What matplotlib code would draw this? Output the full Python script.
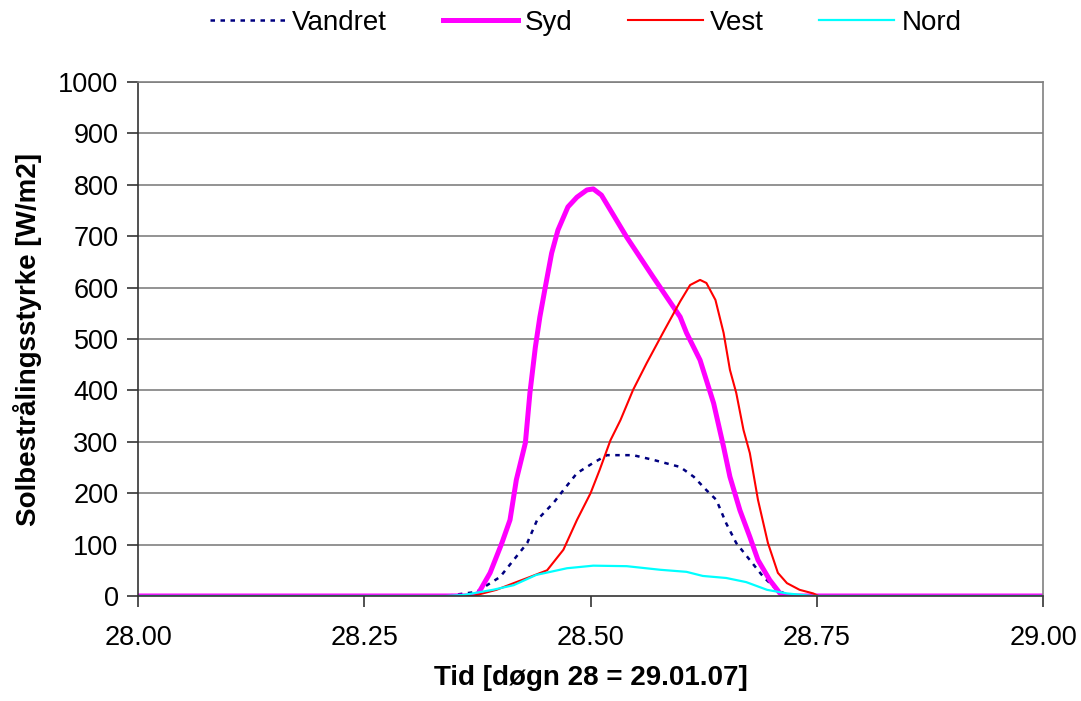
import matplotlib
matplotlib.use("Agg")
import matplotlib.pyplot as plt


# aflaest fra figuren, tid i doegn og straaling i W/m2
vandret_x = [28.0, 28.34, 28.374, 28.4, 28.415, 28.43, 28.441, 28.459, 28.47, 28.485,
             28.503, 28.518, 28.547, 28.569, 28.584, 28.599, 28.614, 28.628, 28.639,
             28.65, 28.661, 28.676, 28.691, 28.706, 28.72, 29.0]
vandret_y = [0, 0, 8, 37, 70, 103, 148, 181, 206, 239,
             259, 274, 274, 265, 258, 251, 232, 206, 187,
             141, 103, 70, 37, 12, 0, 0]

syd_x = [28.0, 28.37, 28.376, 28.389, 28.402, 28.411, 28.418, 28.428, 28.433, 28.439,
         28.444, 28.45, 28.457, 28.464, 28.475, 28.485, 28.496, 28.503, 28.512, 28.54,
         28.569, 28.599, 28.606, 28.621, 28.636, 28.647, 28.654, 28.665, 28.676, 28.685,
         28.698, 28.709, 28.715, 29.0]
syd_y = [0, 0, 5, 45, 103, 148, 226, 298, 395, 484,
         543, 601, 667, 712, 757, 776, 790, 792, 780, 698,
         621, 543, 512, 459, 375, 290, 232, 167, 115, 70,
         31, 6, 0, 0]

vest_x = [28.0, 28.37, 28.396, 28.415, 28.433, 28.452, 28.47, 28.485, 28.5, 28.51,
          28.522, 28.533, 28.547, 28.562, 28.58, 28.599, 28.61, 28.621, 28.628, 28.638,
          28.647, 28.654, 28.661, 28.669, 28.676, 28.685, 28.696, 28.707, 28.717, 28.731,
          28.746, 28.752, 29.0]
vest_y = [0, 0, 12, 25, 37, 50, 90, 148, 200, 245,
          303, 342, 401, 453, 512, 573, 605, 615, 609, 576,
          512, 440, 395, 323, 278, 187, 103, 45, 25, 12,
          5, 0, 0]

nord_x = [28.0, 28.34, 28.36, 28.392, 28.415, 28.44, 28.474, 28.503, 28.54, 28.577,
          28.606, 28.624, 28.65, 28.672, 28.695, 28.717, 28.745, 29.0]
nord_y = [0, 0, 2, 12, 21, 41, 54, 59, 58, 51,
          47, 39, 35, 27, 12, 5, 0, 0]

x_ticks = [28.0, 28.25, 28.5, 28.75, 29.0]
x_labels = ["28.00", "28.25", "28.50", "28.75", "29.00"]
y_ticks = list(range(0, 1001, 100))


plt.rcParams["font.family"] = ["Liberation Sans", "DejaVu Sans"]

fig = plt.figure(figsize=(10.81, 7.01), dpi=100)
ax = fig.add_axes([0.1277, 0.1498, 0.8372, 0.7332])

for y in y_ticks[1:]:
    ax.axhline(y, color="#808080", lw=1.2, zorder=0)

ax.plot(vandret_x, vandret_y, color="#000080", lw=1.8, dashes=(1.8, 2.2), label="Vandret")
ax.plot(syd_x, syd_y, color="#FF00FF", lw=3.6, label="Syd")
ax.plot(vest_x, vest_y, color="#FF0000", lw=1.5, label="Vest")
ax.plot(nord_x, nord_y, color="#00FFFF", lw=1.6, label="Nord")

ax.set_xlim(28.0, 29.0)
ax.set_ylim(0, 1000)
ax.set_xticks(x_ticks)
ax.set_xticklabels(x_labels)
ax.set_yticks(y_ticks)

ax.tick_params(axis="both", labelsize=19.5, length=8, width=1.2, color="#333333", direction="out")
ax.tick_params(axis="x", pad=13)
ax.tick_params(axis="y", pad=6)

for side in ["top", "right"]:
    ax.spines[side].set_color("#808080")
    ax.spines[side].set_linewidth(1.2)
for side in ["left", "bottom"]:
    ax.spines[side].set_color("#333333")
    ax.spines[side].set_linewidth(1.2)

ax.set_xlabel("Tid [døgn 28 = 29.01.07]", fontsize=20, fontweight="bold", labelpad=10)
ax.set_ylabel("Solbestrålingsstyrke [W/m2]", fontsize=20, fontweight="bold", labelpad=12)

fig.legend(loc="upper center", bbox_to_anchor=(0.542, 1.022), ncol=4, frameon=False,
           fontsize=20, handlelength=2.7, handletextpad=0.25, columnspacing=2.0)

fig.savefig("out.png", dpi=100)
